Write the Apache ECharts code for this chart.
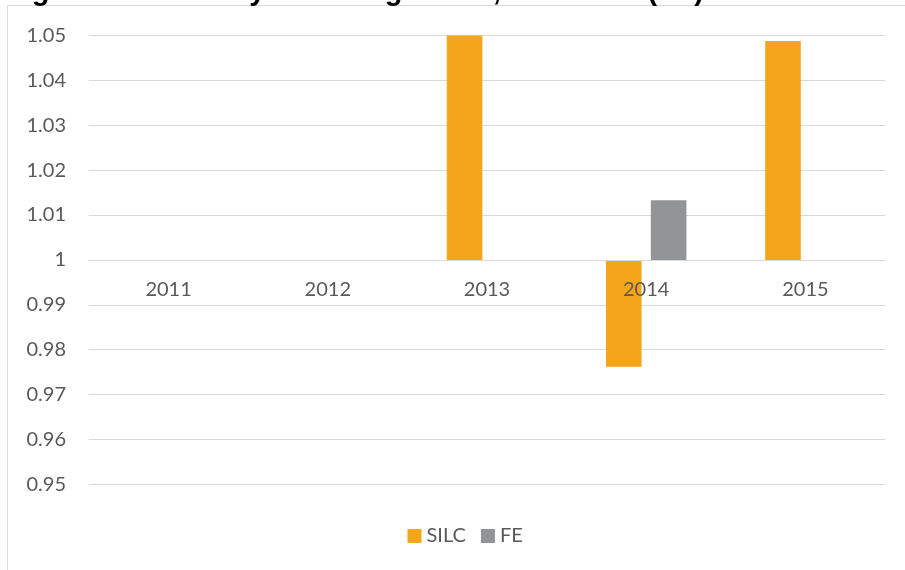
<!DOCTYPE html>
<html>
<head>
<meta charset="utf-8">
<script src="https://cdn.jsdelivr.net/npm/echarts@6/dist/echarts.min.js"></script>
<style>
  html, body { margin: 0; padding: 0; background: #fff; }
  #chart { width: 905px; height: 570px; }
</style>
</head>
<body>
<div id="chart"></div>
<script>
// values; bars are drawn from the 1.00 line
var years = ['2011', '2012', '2013', '2014', '2015']
var silc = [null, null, 1.05, 0.9762, 1.0488]
var fe = [null, null, null, 1.0133, null]
var base = 1
var yMin = 0.95
var yMax = 1.05
var yStep = 0.01

function fromBase (arr) {
  return arr.map(function (v) { return v == null ? null : v - base })
}

var gridTop = 35.5
var gridBottom = 85.7
var plotH = 570 - gridTop - gridBottom
// category axis sits on the 1.00 line (Excel crosses there), labels too
var crossOffset = -plotH * (base - yMin) / (yMax - yMin)

var chart = echarts.init(document.getElementById('chart'))
chart.setOption({
  animation: false,
  textStyle: { fontFamily: 'Lato' },
  title: {
    // caption above the chart, cut off by the crop
    text: 'Figure 6: Year on year change SILC, CSO data (FE) and SILC',
    left: 1,
    top: -28,
    textStyle: { fontFamily: 'Liberation Sans', fontWeight: 'bold', fontSize: 29, color: '#000' }
  },
  graphic: [{
    type: 'rect',
    shape: { x: 7.5, y: 5.5, width: 1000, height: 1000 },
    style: { fill: '#fff', stroke: '#d9d9d9', lineWidth: 1 },
    z: -1,
    silent: true
  }],
  legend: {
    data: ['SILC', 'FE'],
    icon: 'rect',
    itemWidth: 14,
    itemHeight: 14,
    itemGap: 15,
    left: 402.5,
    top: 521,
    textStyle: { color: '#595959', fontSize: 20, fontFamily: 'Lato' }
  },
  grid: { left: 89, right: 20, top: gridTop, bottom: gridBottom },
  xAxis: {
    type: 'category',
    data: years,
    offset: crossOffset,
    z: 10,
    axisLine: { onZero: false, lineStyle: { color: '#d9d9d9', width: 1 } },
    axisTick: { show: false },
    axisLabel: { color: '#595959', fontSize: 20, margin: 20 }
  },
  yAxis: {
    type: 'value',
    min: yMin - base,
    max: yMax - base,
    interval: yStep,
    axisLine: { show: false },
    axisTick: { show: false },
    splitLine: { lineStyle: { color: '#d9d9d9', width: 1 } },
    axisLabel: {
      color: '#595959',
      fontSize: 20,
      margin: 23,
      formatter: function (v) { return String(parseFloat((v + base).toFixed(2))) }
    }
  },
  series: [
    {
      name: 'SILC',
      type: 'bar',
      data: fromBase(silc),
      barWidth: 35.6,
      barGap: '26%',
      itemStyle: { color: '#f5a51a' }
    },
    {
      name: 'FE',
      type: 'bar',
      data: fromBase(fe),
      barWidth: 35.6,
      itemStyle: { color: '#929497' }
    }
  ]
})
</script>
</body>
</html>
